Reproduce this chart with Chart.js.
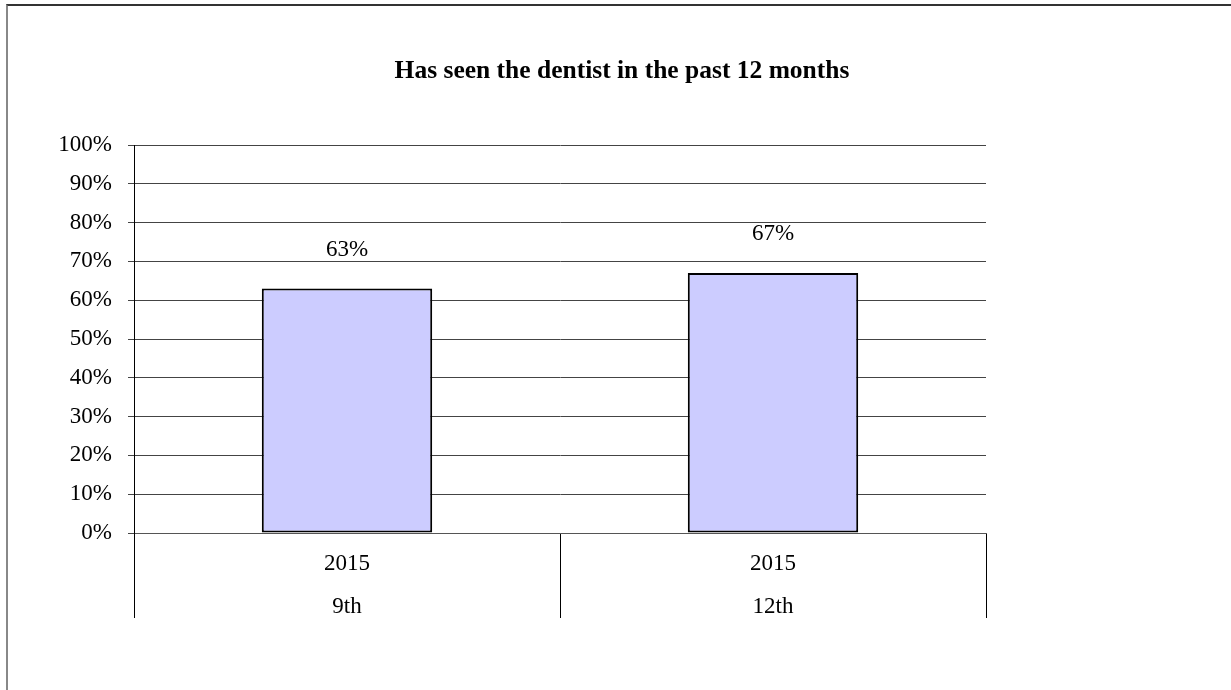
<!DOCTYPE html>
<html>
<head>
<meta charset="utf-8">
<script src="https://cdn.jsdelivr.net/npm/chart.js@4.4.1/dist/chart.umd.min.js"></script>
<style>
  html, body { margin: 0; padding: 0; background: #fff; }
  #wrap { position: relative; width: 1231px; height: 690px; overflow: hidden; }
  #frame { position: absolute; left: 6px; top: 4px; right: 0; bottom: -10px;
           border-top: 2px solid #333; border-left: 2px solid #888; pointer-events: none; }
  canvas { position: absolute; left: 0; top: 0; }
</style>
</head>
<body>
<div id="wrap">
  <canvas id="c" width="1231" height="690"></canvas>
  <div id="frame"></div>
</div>
<script>
const titleText = "Has seen the dentist in the past 12 months";
const years = ["2015", "2015"];
const grades = ["9th", "12th"];
const values = [63, 67];
const yTicks = [0, 10, 20, 30, 40, 50, 60, 70, 80, 90, 100];

const FONT = "'Liberation Serif', 'Times New Roman', serif";

const labels = years.map((y, i) => [y, grades[i]]);

const titlePlugin = {
  id: 'titleText',
  afterDraw(chart) {
    const ctx = chart.ctx;
    ctx.save();
    ctx.font = "bold 25.5px " + FONT;
    ctx.fillStyle = '#000';
    ctx.textAlign = 'center';
    ctx.textBaseline = 'middle';
    ctx.fillText(titleText, 622, 71);
    ctx.restore();
  }
};

const valueLabels = {
  id: 'valueLabels',
  afterDatasetsDraw(chart) {
    const ctx = chart.ctx;
    const meta = chart.getDatasetMeta(0);
    ctx.save();
    ctx.font = "23px " + FONT;
    ctx.fillStyle = '#000';
    ctx.textAlign = 'center';
    ctx.textBaseline = 'middle';
    meta.data.forEach((bar, i) => {
      ctx.fillText(values[i] + '%', bar.x, bar.y - 39);
    });
    ctx.restore();
  }
};

new Chart(document.getElementById('c'), {
  type: 'bar',
  data: {
    labels: labels,
    datasets: [{
      data: values,
      backgroundColor: '#CCCCFF',
      borderColor: '#000',
      borderWidth: 2,
      borderSkipped: false,
      barPercentage: 0.4,
      categoryPercentage: 1.0
    }]
  },
  options: {
    responsive: false,
    animation: false,
    layout: { padding: { left: 10, right: 245, top: 145, bottom: 72 } },
    plugins: {
      legend: { display: false },
      title: { display: false },
      tooltip: { enabled: false }
    },
    scales: {
      x: {
        grid: {
          offset: true,
          drawOnChartArea: false,
          drawTicks: true,
          tickLength: 85,
          color: '#000',
          lineWidth: 1
        },
        border: { display: true, color: '#555', width: 1 },
        ticks: {
          font: { family: FONT, size: 23, lineHeight: '43px' },
          color: '#000',
          padding: -76,
          maxRotation: 0,
          autoSkip: false
        },
        afterFit(scale) { scale.height = 85; scale.paddingLeft = 0; scale.paddingRight = 0; }
      },
      y: {
        min: 0,
        max: 100,
        afterBuildTicks(scale) { scale.ticks = yTicks.map(v => ({ value: v })); },
        grid: { color: '#444', lineWidth: 1, tickLength: 6, drawTicks: true },
        border: { display: true, color: '#000', width: 1 },
        ticks: {
          font: { family: FONT, size: 23 },
          color: '#000',
          padding: 16,
          callback: v => v + '%'
        },
        afterFit(scale) { scale.width = 124; scale.paddingTop = 0; scale.paddingBottom = 0; }
      }
    }
  },
  plugins: [titlePlugin, valueLabels]
});
</script>
</body>
</html>
